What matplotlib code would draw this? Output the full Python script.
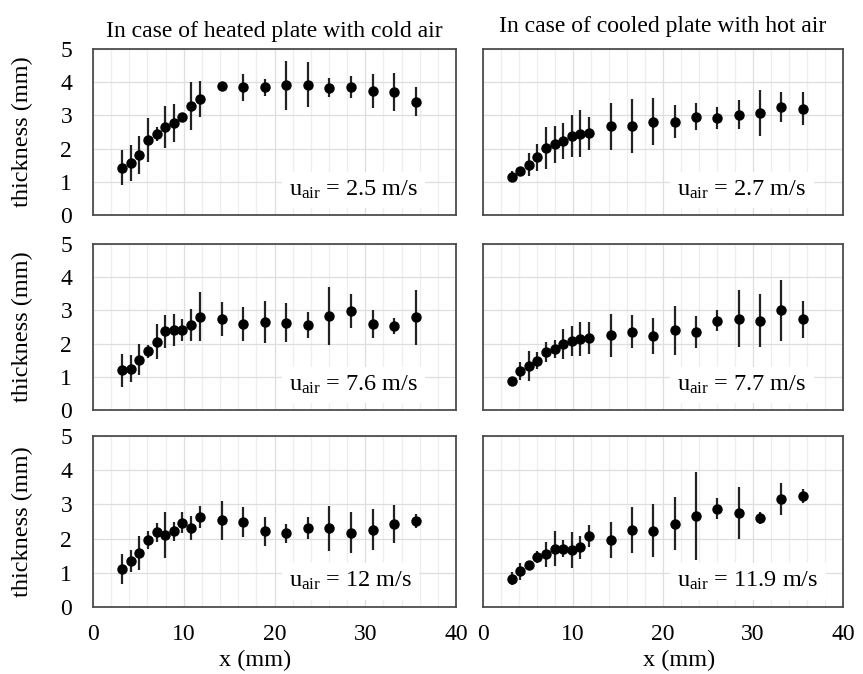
import numpy as np
import matplotlib
matplotlib.use('Agg')
import matplotlib.pyplot as plt

plt.rcParams['font.family'] = ['Liberation Serif', 'DejaVu Serif']
plt.rcParams['mathtext.fontset'] = 'custom'
plt.rcParams['mathtext.rm'] = 'Liberation Serif'
plt.rcParams['mathtext.it'] = 'Liberation Serif:italic'

# positions along the plate (mm), same for all panels
x_pos = [3.2, 4.15, 5.1, 6.05, 7.0, 7.95, 8.9, 9.85, 10.8, 11.75,
         14.2, 16.55, 18.9, 21.3, 23.65, 26.0, 28.45, 30.8, 33.15, 35.55]

# heated plate with cold air
heat_25 = [1.43, 1.57, 1.80, 2.26, 2.44, 2.65, 2.76, 2.95, 3.28, 3.49,
           3.89, 3.85, 3.85, 3.91, 3.93, 3.84, 3.86, 3.73, 3.71, 3.41]
heat_25_err = [0.52, 0.54, 0.57, 0.66, 0.20, 0.62, 0.57, 0.10, 0.72, 0.54,
               0.10, 0.41, 0.26, 0.74, 0.69, 0.28, 0.34, 0.52, 0.57, 0.44]
heat_76 = [1.20, 1.25, 1.52, 1.77, 2.06, 2.37, 2.41, 2.41, 2.56, 2.81,
           2.74, 2.58, 2.65, 2.63, 2.56, 2.82, 2.97, 2.58, 2.53, 2.79]
heat_76_err = [0.50, 0.40, 0.47, 0.20, 0.52, 0.49, 0.47, 0.34, 0.47, 0.74,
               0.50, 0.51, 0.62, 0.58, 0.39, 0.87, 0.51, 0.42, 0.24, 0.82]
heat_12 = [1.12, 1.35, 1.58, 1.97, 2.18, 2.11, 2.22, 2.47, 2.31, 2.63,
           2.53, 2.49, 2.21, 2.15, 2.31, 2.30, 2.17, 2.26, 2.42, 2.52]
heat_12_err = [0.44, 0.33, 0.50, 0.26, 0.27, 0.68, 0.28, 0.31, 0.34, 0.33,
               0.56, 0.44, 0.42, 0.27, 0.31, 0.65, 0.60, 0.60, 0.55, 0.20]

# cooled plate with hot air
cool_27 = [1.15, 1.33, 1.52, 1.74, 2.01, 2.13, 2.23, 2.38, 2.45, 2.46,
           2.67, 2.68, 2.81, 2.81, 2.96, 2.92, 3.02, 3.08, 3.25, 3.20]
cool_27_err = [0.17, 0.08, 0.36, 0.40, 0.63, 0.55, 0.53, 0.63, 0.70, 0.50,
               0.71, 0.80, 0.71, 0.50, 0.40, 0.34, 0.43, 0.70, 0.44, 0.50]
cool_77 = [0.88, 1.18, 1.33, 1.49, 1.75, 1.85, 1.98, 2.08, 2.14, 2.17,
           2.25, 2.36, 2.22, 2.40, 2.36, 2.69, 2.75, 2.69, 3.00, 2.73]
cool_77_err = [0.08, 0.28, 0.45, 0.27, 0.29, 0.27, 0.45, 0.44, 0.50, 0.49,
               0.64, 0.49, 0.54, 0.74, 0.48, 0.31, 0.86, 0.80, 0.93, 0.56]
cool_119 = [0.83, 1.04, 1.23, 1.46, 1.54, 1.71, 1.71, 1.67, 1.74, 2.07,
            1.96, 2.24, 2.23, 2.44, 2.66, 2.87, 2.75, 2.60, 3.16, 3.25]
cool_119_err = [0.20, 0.26, 0.06, 0.18, 0.37, 0.52, 0.25, 0.53, 0.35, 0.32,
                0.53, 0.67, 0.78, 0.77, 1.30, 0.31, 0.77, 0.18, 0.47, 0.20]

titles = ['In case of heated plate with cold air', 'In case of cooled plate with hot air']
speeds = [['2.5', '2.7'], ['7.6', '7.7'], ['12', '11.9']]
series = [[(heat_25, heat_25_err), (cool_27, cool_27_err)],
          [(heat_76, heat_76_err), (cool_77, cool_77_err)],
          [(heat_12, heat_12_err), (cool_119, cool_119_err)]]

W, H = 863, 674
fig = plt.figure(figsize=(W / 100, H / 100), dpi=100)

col_lr = [(93, 456), (483, 843)]
row_tb = [(49, 215), (244, 410), (436, 607)]

for r in range(3):
    for c in range(2):
        l, rgt = col_lr[c]
        t, b = row_tb[r]
        ax = fig.add_axes([l / W, 1 - b / H, (rgt - l) / W, (b - t) / H])
        y, e = series[r][c]
        ax.errorbar(x_pos, y, yerr=e, fmt='o', color='black', ms=6.5,
                    ecolor='#222222', elinewidth=1.6, capsize=0, zorder=3)
        ax.set_xlim(0, 40)
        ax.set_ylim(0, 5)
        ax.set_xticks([0, 10, 20, 30, 40])
        ax.set_xticks(np.arange(2, 40, 2), minor=True)
        ax.set_yticks([0, 1, 2, 3, 4, 5])
        ax.grid(which='major', color='#dedede', lw=0.9, zorder=0)
        ax.grid(which='minor', axis='x', color='#eeeeee', lw=0.9, zorder=0)
        ax.set_axisbelow(True)
        for s in ax.spines.values():
            s.set_color('#4d4d4d')
            s.set_linewidth(1.3)
        ax.tick_params(which='both', length=0, labelsize=17)
        ax.tick_params(axis='y', pad=15)
        ax.tick_params(axis='x', pad=12)
        if c == 1:
            ax.set_yticklabels([])
        else:
            ax.set_ylabel('thickness (mm)', fontsize=17.5)
            ax.yaxis.set_label_coords(-0.165, 0.5)
        if r < 2:
            ax.set_xticklabels([])
        else:
            ax.set_xlabel('x (mm)', fontsize=17.5)
            ax.xaxis.set_label_coords(0.446 if c == 0 else 0.544, -0.25)
        if r == 0:
            ax.set_title(titles[c], fontsize=17, pad=9 if c == 0 else 12)
        ax.text(0.54, 0.15, r'u$_{\mathrm{air}}$ = ' + speeds[r][c] + ' m/s',
                transform=ax.transAxes, fontsize=17.5, ha='left', va='center',
                bbox=dict(facecolor='white', edgecolor='none', pad=5), zorder=4)

fig.savefig('out.png', dpi=100)
